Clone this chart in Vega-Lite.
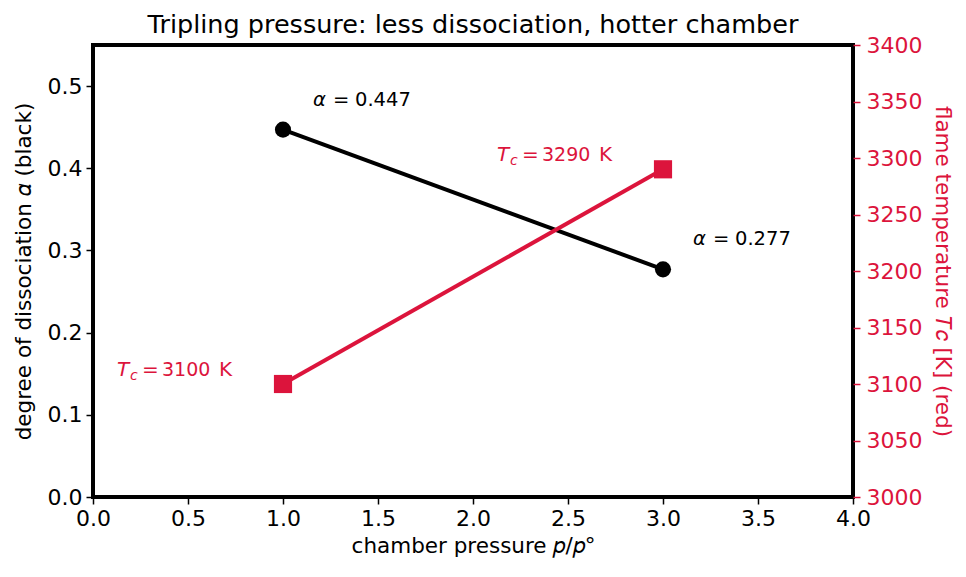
{
  "$schema": "https://vega.github.io/schema/vega-lite/v6.json",
  "width": 760,
  "height": 452,
  "autosize": {"type": "none"},
  "padding": {"left": 93, "top": 45, "right": 113, "bottom": 80},
  "background": "white",
  "title": {
    "text": "Tripling pressure: less dissociation, hotter chamber",
    "fontSize": 25.5,
    "fontWeight": "normal",
    "color": "black",
    "anchor": "middle",
    "offset": -4
  },
  "config": {
    "font": "DejaVu Sans",
    "view": {"stroke": "black", "strokeWidth": 4},
    "axis": {
      "grid": false,
      "domain": false,
      "labelFontSize": 22,
      "titleFontSize": 21.5,
      "titleFontWeight": "normal",
      "tickSize": 7,
      "tickWidth": 1.5,
      "labelColor": "black",
      "titleColor": "black",
      "tickColor": "black"
    }
  },
  "datasets": {
    "dissociation": [
      {"p": 1, "alpha": 0.447},
      {"p": 3, "alpha": 0.277}
    ],
    "temperature": [
      {"p": 1, "T": 3100},
      {"p": 3, "T": 3290}
    ]
  },
  "layer": [
    {
      "data": {"name": "dissociation"},
      "encoding": {
        "x": {
          "field": "p",
          "type": "quantitative",
          "scale": {"domain": [0, 4], "nice": false, "zero": false},
          "axis": {
            "title": "chamber pressure  𝑝/𝑝°",
            "values": [0, 0.5, 1, 1.5, 2, 2.5, 3, 3.5, 4],
            "format": ".1f",
            "labelPadding": 4,
            "titlePadding": 6,
            "labelFlush": false,
            "labelOverlap": false
          }
        },
        "y": {
          "field": "alpha",
          "type": "quantitative",
          "scale": {"domain": [0, 0.55], "nice": false, "zero": false},
          "axis": {
            "title": "degree of dissociation  𝛼 (black)",
            "orient": "left",
            "values": [0, 0.1, 0.2, 0.3, 0.4, 0.5],
            "format": ".1f",
            "labelPadding": 4,
            "titlePadding": 12,
            "labelFlush": false,
            "labelOverlap": false
          }
        }
      },
      "layer": [
        {"mark": {"type": "line", "color": "black", "strokeWidth": 4}},
        {"mark": {"type": "point", "shape": "circle", "filled": true, "color": "black", "size": 260, "opacity": 1}},
        {"mark": {"type": "text", "align": "left", "baseline": "alphabetic", "fontSize": 19.5, "fontStyle": "italic", "color": "black", "dx": 30, "dy": -24},
         "encoding": {"text": {"value": "α"}}},
        {"mark": {"type": "text", "align": "left", "baseline": "alphabetic", "fontSize": 19.5, "color": "black", "dx": 50, "dy": -24},
         "encoding": {"text": {"value": "="}}},
        {"mark": {"type": "text", "align": "left", "baseline": "alphabetic", "fontSize": 19.5, "color": "black", "dx": 72, "dy": -24},
         "encoding": {"text": {"field": "alpha", "type": "quantitative", "format": ".3f"}}}
      ]
    },
    {
      "data": {"name": "temperature"},
      "encoding": {
        "x": {"field": "p", "type": "quantitative"},
        "y": {
          "field": "T",
          "type": "quantitative",
          "scale": {"domain": [3000, 3400], "nice": false, "zero": false},
          "axis": {
            "title": "flame temperature  𝑇𝑐 [K] (red)",
            "orient": "right",
            "values": [3000, 3050, 3100, 3150, 3200, 3250, 3300, 3350, 3400],
            "format": "d",
            "labelColor": "#DC143C",
            "titleColor": "#DC143C",
            "tickColor": "#DC143C",
            "labelPadding": 6,
            "titlePadding": 9,
            "labelFlush": false,
            "labelOverlap": false
          }
        }
      },
      "layer": [
        {"mark": {"type": "line", "color": "#DC143C", "strokeWidth": 4}},
        {"mark": {"type": "point", "shape": "square", "filled": true, "color": "#DC143C", "size": 330, "opacity": 1}},
        {"mark": {"type": "text", "align": "left", "baseline": "alphabetic", "fontSize": 20, "fontStyle": "italic", "color": "#DC143C", "dx": -166, "dy": -8},
         "encoding": {"text": {"value": "T"}}},
        {"mark": {"type": "text", "align": "left", "baseline": "alphabetic", "fontSize": 14, "fontStyle": "italic", "color": "#DC143C", "dx": -153, "dy": -4},
         "encoding": {"text": {"value": "c"}}},
        {"mark": {"type": "text", "align": "left", "baseline": "alphabetic", "fontSize": 20, "color": "#DC143C", "dx": -141, "dy": -8},
         "encoding": {"text": {"value": "="}}},
        {"mark": {"type": "text", "align": "left", "baseline": "alphabetic", "fontSize": 19, "color": "#DC143C", "dx": -121, "dy": -8},
         "encoding": {"text": {"field": "T", "type": "quantitative", "format": "d"}}},
        {"mark": {"type": "text", "align": "left", "baseline": "alphabetic", "fontSize": 20, "color": "#DC143C", "dx": -64, "dy": -8},
         "encoding": {"text": {"value": "K"}}}
      ]
    }
  ],
  "resolve": {"scale": {"y": "independent"}}
}
